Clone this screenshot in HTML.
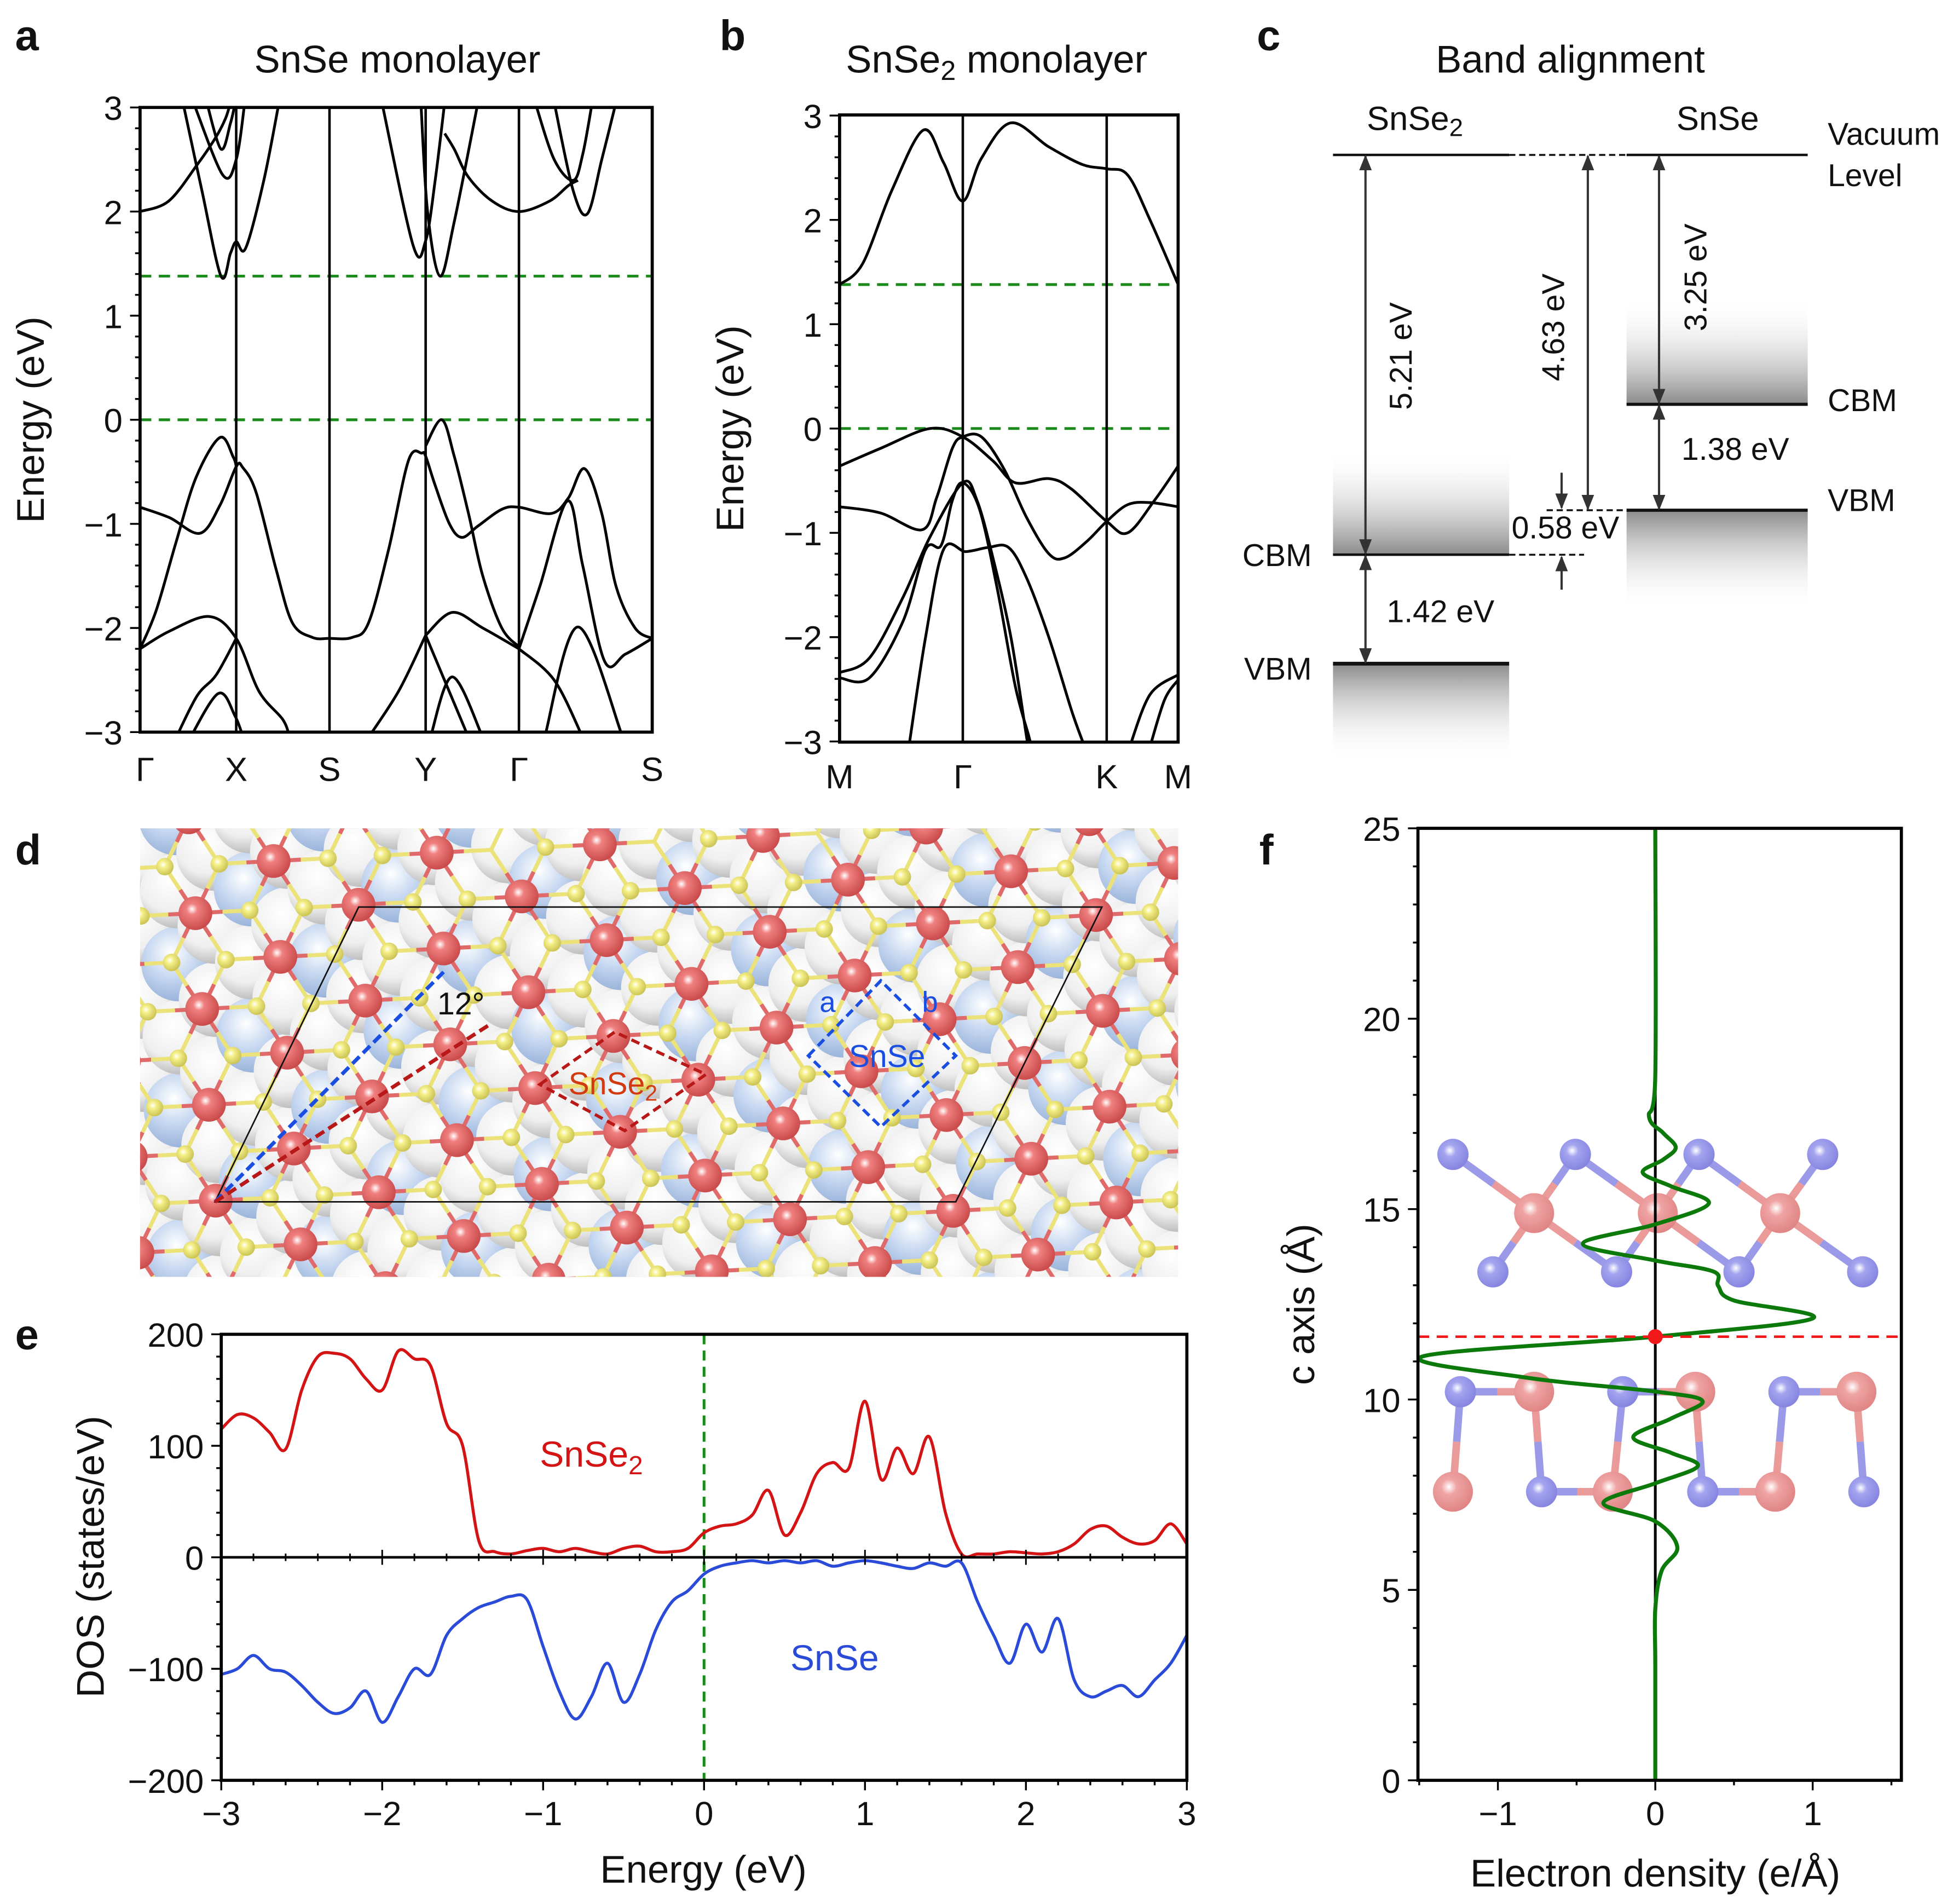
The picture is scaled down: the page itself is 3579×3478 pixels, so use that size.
<!DOCTYPE html>
<html><head><meta charset="utf-8"><style>
html,body{margin:0;padding:0;background:#fff;}
svg{display:block;font-family:"Liberation Sans",Arial,sans-serif;}
</style></head><body>
<svg id="fig" xmlns="http://www.w3.org/2000/svg" width="3579" height="3478" viewBox="0 0 1568 1524">
<defs>
<clipPath id="clipA"><rect x="112" y="86" width="410" height="500"/></clipPath>
<clipPath id="clipB"><rect x="672" y="92" width="271" height="502"/></clipPath>
<clipPath id="clipD"><rect x="112" y="663" width="831" height="359"/></clipPath>
<clipPath id="clipE"><rect x="177" y="1068" width="773" height="357"/></clipPath>
<linearGradient id="gUp" x1="0" y1="0" x2="0" y2="1"><stop offset="0" stop-color="#fff" stop-opacity="0"/><stop offset="1" stop-color="#8a8a8a"/></linearGradient>
<linearGradient id="gDown" x1="0" y1="0" x2="0" y2="1"><stop offset="0" stop-color="#8a8a8a"/><stop offset="1" stop-color="#fff" stop-opacity="0"/></linearGradient>
<radialGradient id="gRed" cx="0.4" cy="0.38" r="0.65"><stop offset="0" stop-color="#fff"/><stop offset="0.25" stop-color="#f08080"/><stop offset="1" stop-color="#c84848"/></radialGradient>
<radialGradient id="gYel" cx="0.4" cy="0.38" r="0.65"><stop offset="0" stop-color="#fff"/><stop offset="0.3" stop-color="#f6f08a"/><stop offset="1" stop-color="#c8c050"/></radialGradient>
<radialGradient id="gWhite" cx="0.4" cy="0.35" r="0.7"><stop offset="0" stop-color="#fff"/><stop offset="0.6" stop-color="#efefef"/><stop offset="1" stop-color="#b4b4b4"/></radialGradient>
<radialGradient id="gBlue" cx="0.4" cy="0.35" r="0.7"><stop offset="0" stop-color="#fff"/><stop offset="0.5" stop-color="#c4d6f0"/><stop offset="1" stop-color="#93aed6"/></radialGradient>
<radialGradient id="gPink" cx="0.4" cy="0.38" r="0.65"><stop offset="0" stop-color="#fff"/><stop offset="0.3" stop-color="#ee9a9a"/><stop offset="1" stop-color="#dd7777"/></radialGradient>
<radialGradient id="gPur" cx="0.4" cy="0.38" r="0.65"><stop offset="0" stop-color="#fff"/><stop offset="0.3" stop-color="#9a9aee"/><stop offset="1" stop-color="#7777dd"/></radialGradient>
<marker id="arr" viewBox="0 0 10 10" refX="9" refY="5" markerWidth="7" markerHeight="7" orient="auto-start-reverse"><path d="M0,1 L10,5 L0,9 z" fill="#333"/></marker>
</defs>
<g id="root"></g>
</svg>
<script>
// ---------------- DATA ----------------
const aTickK = [0, 1.01, 1.99, 3.0, 3.98, 5.38];
const aTickLabels = ["Γ", "X", "S", "Y", "Γ", "S"];
const aBands = [
 [[0,-0.84],[0.31,-0.94],[0.63,-1.09],[0.84,-0.82],[1.01,-0.45],[1.08,-0.46],[1.22,-0.70],[1.43,-1.44],[1.60,-1.95],[1.81,-2.09],[1.99,-2.10],[2.23,-2.09],[2.40,-1.95],[2.61,-1.25],[2.82,-0.39],[2.96,-0.32],[3.0,-0.35],[3.10,-0.63],[3.25,-1.0],[3.38,-1.13],[3.55,-1.02],[3.8,-0.86],[3.98,-0.84],[4.32,-0.90],[4.5,-0.75],[4.67,-0.47],[4.85,-0.9],[5.0,-1.6],[5.2,-2.0],[5.38,-2.1]],
 [[0,-2.2],[0.17,-1.83],[0.38,-1.17],[0.59,-0.55],[0.84,-0.17],[0.98,-0.36],[1.01,-0.45]],
 [[3.0,-0.25],[3.17,0],[3.3,-0.35],[3.45,-0.9],[3.6,-1.5],[3.8,-2.0],[3.98,-2.18]],
 [[3.98,-2.2],[4.2,-1.6],[4.49,-0.78],[4.65,-1.4],[4.88,-2.32],[5.1,-2.25],[5.38,-2.1]],
 [[0,-2.2],[0.31,-2.03],[0.73,-1.89],[1.01,-2.1],[1.25,-2.61],[1.5,-2.88],[1.57,-3.05]],
 [[1.01,-2.1],[0.8,-2.45],[0.6,-2.65],[0.38,-3.05]],
 [[0.5,-3.1],[0.82,-2.63],[1.0,-2.85],[1.1,-3.1]],
 [[2.4,-3.05],[2.72,-2.6],[3.0,-2.07]],
 [[3.0,-2.07],[3.28,-1.85],[3.6,-2.0],[3.98,-2.2]],
 [[3.0,-2.07],[3.45,-3.05]],
 [[3.05,-3.05],[3.28,-2.47],[3.6,-3.05]],
 [[3.98,-2.2],[4.35,-2.5],[4.65,-3.05]],
 [[4.25,-3.05],[4.6,-1.99],[5.07,-3.05]],
 [[0,2.0],[0.3,2.1],[0.6,2.45],[0.8,2.72],[0.9,2.9],[0.95,3.05]],
 [[0.45,3.05],[0.65,2.2],[0.85,1.38],[0.95,1.6],[1.01,1.71],[1.11,1.65],[1.3,2.3],[1.46,3.05]],
 [[0.56,3.05],[0.87,2.35],[1.01,2.5],[1.1,3.05]],
 [[0.7,3.05],[0.85,2.6],[0.95,2.85],[1.0,3.05]],
 [[2.54,3.05],[2.87,1.67],[3.0,1.72],[3.1,2.3],[3.2,3.05]],
 [[2.95,3.05],[3.02,2.0],[3.15,1.38],[3.3,1.9],[3.55,3.05]],
 [[3.2,2.75],[3.3,2.6],[3.45,2.33],[3.7,2.1],[3.98,2.0],[4.3,2.1],[4.5,2.25],[4.6,2.3]],
 [[4.35,3.05],[4.55,2.2],[4.7,1.98],[4.85,2.5],[5.0,3.05]],
 [[4.15,3.05],[4.35,2.5],[4.55,2.3],[4.65,2.55],[4.75,3.05]]
];
const bTickK = [0, 0.364, 0.789, 1];
const bTickLabels = ["M", "Γ", "K", "M"];
const bBands = [
 [[0,1.38],[0.068,1.58],[0.154,2.28],[0.247,2.86],[0.307,2.55],[0.364,2.18],[0.419,2.59],[0.506,2.93],[0.618,2.70],[0.718,2.53],[0.789,2.49],[0.851,2.43],[0.917,2.0],[1,1.38]],
 [[0,-0.36],[0.121,-0.19],[0.267,0.0],[0.364,-0.08],[0.453,-0.31],[0.519,-0.52],[0.618,-0.48],[0.685,-0.58],[0.789,-0.89],[0.851,-1.0],[0.930,-0.69],[1,-0.36]],
 [[0,-0.75],[0.121,-0.81],[0.244,-0.97],[0.287,-0.66],[0.333,-0.19],[0.364,-0.08],[0.419,-0.08],[0.486,-0.39],[0.552,-0.85],[0.618,-1.2],[0.665,-1.24],[0.731,-1.08],[0.789,-0.89],[0.851,-0.73],[0.917,-0.71],[1,-0.75]],
 [[0,-2.34],[0.088,-2.2],[0.187,-1.62],[0.267,-1.04],[0.364,-0.52],[0.406,-0.69],[0.453,-1.24],[0.506,-2.0],[0.552,-2.95],[0.56,-3.1]],
 [[0,-2.39],[0.088,-2.39],[0.187,-1.85],[0.254,-1.16],[0.300,-1.12],[0.333,-0.69],[0.364,-0.52],[0.413,-0.77],[0.466,-1.54],[0.519,-2.47],[0.559,-2.95],[0.57,-3.1]],
 [[0.207,-3.0],[0.254,-2.0],[0.307,-1.16],[0.373,-1.18],[0.439,-1.14],[0.499,-1.14],[0.552,-1.43],[0.618,-2.0],[0.685,-2.7],[0.718,-3.0]],
 [[0.857,-3.05],[0.917,-2.55],[1,-2.36]],
 [[0.917,-3.05],[0.96,-2.6],[1,-2.41]]
];
const dosEnergy = [];
for (let i = 0; i <= 60; i++) dosEnergy.push(-3 + i * 0.1);
const dosSnSe2 = [115,128,125,112,97,150,180,183,178,160,150,185,178,172,120,100,15,5,3,6,8,5,8,5,3,8,10,5,5,8,22,28,30,38,60,20,40,75,85,80,140,70,98,75,108,40,3,3,3,5,4,3,5,12,25,28,18,12,15,30,12];
const dosSnSe = [-105,-100,-88,-100,-103,-115,-130,-140,-135,-120,-148,-125,-100,-105,-70,-55,-45,-40,-35,-38,-80,-120,-145,-125,-95,-130,-105,-65,-40,-30,-15,-8,-5,-3,-5,-3,-5,-3,-8,-5,-3,-5,-8,-10,-5,-8,-5,-40,-70,-95,-60,-85,-55,-110,-125,-120,-115,-125,-110,-95,-70];
const eTicksX = [-3,-2,-1,0,1,2,3];
const eTicksY = [-200,-100,0,100,200];
const fC = [0,3,4.5,5.5,6.12,6.8,7.28,7.8,8.25,8.6,9.01,9.5,9.96,10.21,10.57,11.13,11.65,12.13,12.6,12.98,13.36,13.65,14.09,14.6,15.15,15.6,15.96,16.3,16.62,17.0,17.43,18.5,25];
const fV = [0,0,0,0.04,0.14,0.0,-0.33,0.0,0.27,0.1,-0.14,0.1,0.3,0.0,-0.81,-1.48,0.0,1.0,0.5,0.4,0.37,0.0,-0.46,0.0,0.34,0.1,-0.08,0.05,0.13,0.05,-0.04,0,0];
const fTicksY = [0,5,10,15,20,25];
const fTicksX = [-1,0,1];
const interfaceC = 11.65;
const snse2CBM = 5.21, snse2Gap = 1.42, snseCBM = 3.25, snseGap = 1.38;

// ---------------- HELPERS ----------------
const NS = "http://www.w3.org/2000/svg";
const root = document.getElementById("root");
function mk(tag, attrs, parent) {
  const el = document.createElementNS(NS, tag);
  for (const k in attrs) el.setAttribute(k, attrs[k]);
  (parent || root).appendChild(el);
  return el;
}
function txt(s, x, y, size, attrs, parent) {
  const a = Object.assign({x: x, y: y, "font-size": size, fill: "#111"}, attrs || {});
  const t = mk("text", a, parent);
  t.textContent = s;
  return t;
}
function smooth(pts) {
  if (pts.length < 2) return "";
  let d = "M" + pts[0][0].toFixed(2) + "," + pts[0][1].toFixed(2);
  for (let i = 0; i < pts.length - 1; i++) {
    const p0 = pts[i - 1] || pts[i], p1 = pts[i], p2 = pts[i + 1], p3 = pts[i + 2] || p2;
    const c1 = [p1[0] + (p2[0] - p0[0]) / 6, p1[1] + (p2[1] - p0[1]) / 6];
    const c2 = [p2[0] - (p3[0] - p1[0]) / 6, p2[1] - (p3[1] - p1[1]) / 6];
    d += " C" + c1[0].toFixed(2) + "," + c1[1].toFixed(2) + " " + c2[0].toFixed(2) + "," + c2[1].toFixed(2) + " " + p2[0].toFixed(2) + "," + p2[1].toFixed(2);
  }
  return d;
}
const minus = v => (v < 0 ? "\u2212" + Math.abs(v) : "" + v);
const TF = 31, LF = 31, KF = 27;

// ---------------- PANEL LETTERS ----------------
[["a",12,40],["b",576,40],["c",1006,40],["d",12,692],["e",12,1080],["f",1008,692]].forEach(p => {
  const t = txt(p[0], p[1], p[2], 34, {"font-weight": "bold"});
  
  
});

// ---------------- PANEL A ----------------
(function () {
  const g = mk("g", {});
  
  
  const X0 = 112, X1 = 522, Y0 = 86, Y1 = 586, kmax = aTickK[aTickK.length - 1];
  const xA = k => X0 + k / kmax * (X1 - X0);
  const yA = e => 336 - e * 83.33;
  const title = txt("SnSe monolayer", 318, 58, TF, {"text-anchor": "middle"}, g);
  
  
  const bg = mk("g", {"clip-path": "url(#clipA)"}, g);
  [0, 1.38].forEach(e => {
    const l = mk("line", {x1: X0, x2: X1, y1: yA(e), y2: yA(e), stroke: "#1a8a1a", "stroke-width": 2.2, "stroke-dasharray": "9,6"}, bg);
    
    
  });
  aTickK.slice(1, -1).forEach(k => {
    const l = mk("line", {x1: xA(k), x2: xA(k), y1: Y0, y2: Y1, stroke: "#000", "stroke-width": 2}, bg);
    
    
  });
  aBands.forEach((b, i) => {
    const p = mk("path", {d: smooth(b.map(q => [xA(q[0]), yA(q[1])])), fill: "none", stroke: "#000", "stroke-width": 2.2}, bg);
    
    
  });
  const box = mk("rect", {x: X0, y: Y0, width: X1 - X0, height: Y1 - Y0, fill: "none", stroke: "#000", "stroke-width": 2.5}, g);
  
  
  for (let e = -3; e <= 3.001; e += 0.2) {
    const major = Math.abs(e - Math.round(e)) < 0.01;
    mk("line", {x1: X0 - (major ? 8 : 4), x2: X0, y1: yA(e), y2: yA(e), stroke: "#000", "stroke-width": 1.5}, g);
  }
  for (let e = -3; e <= 3; e++) {
    const t = txt(minus(e), X0 - 14, yA(e) + 10, KF, {"text-anchor": "end"}, g);
    
    
  }
  aTickK.forEach((k, i) => {
    const t = txt(aTickLabels[i], xA(k) + (i === 0 ? 4 : 0), 625, KF, {"text-anchor": "middle"}, g);
    
    
  });
  const yl = txt("Energy (eV)", 0, 0, LF, {"text-anchor": "middle", transform: "translate(35,336) rotate(-90)"}, g);
  
  
})();

// ---------------- PANEL B ----------------
(function () {
  const g = mk("g", {});
  
  
  const X0 = 672, X1 = 943, Y0 = 92, Y1 = 594;
  const xB = k => X0 + k * (X1 - X0);
  const yB = e => 343 - e * 83.5;
  const title = txt("SnSe", 677, 58, TF, {}, g);
  
  
  const ts = mk("tspan", {"font-size": 22, dy: 6}, title); ts.textContent = "2";
  const ts2 = mk("tspan", {dy: -6}, title); ts2.textContent = " monolayer";
  const bg = mk("g", {"clip-path": "url(#clipB)"}, g);
  [0, 1.38].forEach(e => {
    const l = mk("line", {x1: X0, x2: X1, y1: yB(e), y2: yB(e), stroke: "#1a8a1a", "stroke-width": 2.2, "stroke-dasharray": "9,6"}, bg);
    
    
  });
  bTickK.slice(1, -1).forEach(k => {
    const l = mk("line", {x1: xB(k), x2: xB(k), y1: Y0, y2: Y1, stroke: "#000", "stroke-width": 2}, bg);
    
    
  });
  bBands.forEach((b, i) => {
    const p = mk("path", {d: smooth(b.map(q => [xB(q[0]), yB(q[1])])), fill: "none", stroke: "#000", "stroke-width": 2.2}, bg);
    
    
  });
  const box = mk("rect", {x: X0, y: Y0, width: X1 - X0, height: Y1 - Y0, fill: "none", stroke: "#000", "stroke-width": 2.5}, g);
  
  
  for (let e = -3; e <= 3.001; e += 0.2) {
    const major = Math.abs(e - Math.round(e)) < 0.01;
    mk("line", {x1: X0 - (major ? 8 : 4), x2: X0, y1: yB(e), y2: yB(e), stroke: "#000", "stroke-width": 1.5}, g);
  }
  for (let e = -3; e <= 3; e++) {
    const t = txt(minus(e), X0 - 14, yB(e) + 10, KF, {"text-anchor": "end"}, g);
    
    
  }
  bTickK.forEach((k, i) => {
    const t = txt(bTickLabels[i], xB(k), 631, KF, {"text-anchor": "middle"}, g);
    
    
  });
  const yl = txt("Energy (eV)", 0, 0, LF, {"text-anchor": "middle", transform: "translate(595,343) rotate(-90)"}, g);
  
  
})();

// ---------------- PANEL C ----------------
(function () {
  const g = mk("g", {});
  
  
  const vac = 124, scale = (444 - 124) / snse2CBM;
  const yc = e => vac + e * scale;
  const cbm2 = yc(snse2CBM), vbm2 = yc(snse2CBM + snse2Gap), cbm1 = yc(snseCBM), vbm1 = yc(snseCBM + snseGap);
  const t1 = txt("Band alignment", 1257, 58, TF, {"text-anchor": "middle"}, g);
  
  
  const h1 = txt("SnSe", 1094, 104, 27, {}, g);
  
  
  const s1 = mk("tspan", {"font-size": 20, dy: 5}, h1); s1.textContent = "2";
  const h2 = txt("SnSe", 1375, 104, 27, {"text-anchor": "middle"}, g);
  
  
  mk("rect", {x: 1067, y: cbm2 - 85, width: 141, height: 85, fill: "url(#gUp)"}, g);
  mk("rect", {x: 1067, y: vbm2, width: 141, height: 78, fill: "url(#gDown)"}, g);
  mk("rect", {x: 1302, y: cbm1 - 85, width: 145, height: 85, fill: "url(#gUp)"}, g);
  mk("rect", {x: 1302, y: vbm1, width: 145, height: 80, fill: "url(#gDown)"}, g);
  const L = (x1, y1, x2, y2, w, dash, name) => {
    const l = mk("line", {x1: x1, y1: y1, x2: x2, y2: y2, stroke: "#111", "stroke-width": w}, g);
    if (dash) l.setAttribute("stroke-dasharray", dash);
    
    
    return l;
  };
  L(1067, vac, 1208, vac, 2, null, 'vacuum-level-snse2');
  L(1208, vac, 1302, vac, 1.5, "5,3", 'vacuum-level-dashed');
  L(1302, vac, 1447, vac, 2, null, 'vacuum-level-snse');
  L(1067, cbm2, 1208, cbm2, 2, null, 'snse2-cbm');
  L(1208, cbm2, 1268, cbm2, 1.5, "5,3", 'snse2-cbm-dashed');
  L(1067, vbm2, 1208, vbm2, 3, null, 'snse2-vbm');
  L(1302, cbm1, 1447, cbm1, 2.5, null, 'snse-cbm');
  L(1302, vbm1, 1447, vbm1, 2.5, null, 'snse-vbm');
  L(1238, vbm1, 1302, vbm1, 1.5, "5,3", 'snse-vbm-dashed');
  const A = (x, y1, y2, name) => {
    const l = mk("line", {x1: x, y1: y1 + 1, x2: x, y2: y2 - 1, stroke: "#333", "stroke-width": 1.8, "marker-start": "url(#arr)", "marker-end": "url(#arr)"}, g);
    
    
  };
  A(1093, vac, cbm2, 'arrow-snse2-affinity');
  A(1093, cbm2, vbm2, 'arrow-snse2-gap');
  A(1271, vac, vbm1, 'arrow-snse-vbm');
  A(1328, vac, cbm1, 'arrow-snse-affinity');
  A(1328, cbm1, vbm1, 'arrow-snse-gap');
  const a1 = mk("line", {x1: 1250, y1: vbm1 - 30, x2: 1250, y2: vbm1 - 2, stroke: "#333", "stroke-width": 1.8, "marker-end": "url(#arr)"}, g);
  
  
  const a2 = mk("line", {x1: 1250, y1: cbm2 + 28, x2: 1250, y2: cbm2 + 2, stroke: "#333", "stroke-width": 1.8, "marker-end": "url(#arr)"}, g);
  
  
  const lab = (s, x, y, rot, name, anchor) => {
    const t = txt(s, x, y, 25, rot ? {"text-anchor": "middle", transform: "rotate(-90," + x + "," + y + ")"} : {"text-anchor": anchor || "start"}, g);
    
    
  };
  lab(snse2CBM.toFixed(2) + " eV", 1130, 285, true, 'label-5-21');
  lab((snseCBM + snseGap).toFixed(2) + " eV", 1252, 262, true, 'label-4-63');
  lab(snseCBM.toFixed(2) + " eV", 1366, 222, true, 'label-3-25');
  lab(snse2Gap.toFixed(2) + " eV", 1110, 498, false, 'label-1-42');
  lab(snseGap.toFixed(2) + " eV", 1346, 368, false, 'label-1-38');
  lab((snse2CBM - snseCBM - snseGap).toFixed(2) + " eV", 1210, 431, false, 'label-0-58');
  lab("Vacuum", 1463, 116, false, 'vacuum-label');
  lab("Level", 1463, 149, false, 'level-label');
  lab("CBM", 1463, 329, false, 'snse-cbm-label');
  lab("VBM", 1463, 409, false, 'snse-vbm-label');
  lab("CBM", 1050, 453, false, 'snse2-cbm-label', "end");
  lab("VBM", 1050, 544, false, 'snse2-vbm-label', "end");
})();

// ---------------- PANEL D ----------------
(function () {
  const g = mk("g", {"clip-path": "url(#clipD)"});
  
  
  mk("rect", {x: 112, y: 663, width: 831, height: 359, fill: "#f2f2f2"}, g);
  const O = [172.5, 961], a1 = [68, 35], a2 = [5.4, 76.7], b1 = [29, -30], b2 = [30, 28.5];
  for (let i = -30; i <= 30; i++) for (let j = -30; j <= 30; j++) {
    const x = 705 + i * b1[0] + j * b2[0], y = 845 + i * b1[1] + j * b2[1];
    if (x < 70 || x > 990 || y < 620 || y > 1070) continue;
    const blue = ((i + j) % 2 + 2) % 2 === 1 && (i % 2 === 0);
    const c = mk("circle", {cx: x, cy: y, r: 30, fill: blue ? "url(#gBlue)" : "url(#gWhite)"}, g);
    
    
  }
  const reds = [], yel = [];
  for (let i = -20; i <= 20; i++) for (let j = -20; j <= 20; j++) {
    const x = O[0] + i * a1[0] + j * a2[0], y = O[1] + i * a1[1] + j * a2[1];
    if (x < 60 || x > 1000 || y < 610 || y > 1080) continue;
    reds.push([x, y]);
    yel.push([x + (a1[0] + a2[0]) / 3, y + (a1[1] + a2[1]) / 3]);
    yel.push([x + 2 * (a1[0] + a2[0]) / 3, y + 2 * (a1[1] + a2[1]) / 3]);
  }
  const off = [[(a1[0]+a2[0])/3,(a1[1]+a2[1])/3],[(2*a1[0]-a2[0])/3,(2*a1[1]-a2[1])/3],[(2*a2[0]-a1[0])/3,(2*a2[1]-a1[1])/3]];
  reds.forEach(r => {
    [1, -1].forEach(s => off.forEach(o => {
      const ex = r[0] + s * o[0], ey = r[1] + s * o[1];
      const mx = (r[0] + ex) / 2, my = (r[1] + ey) / 2;
      mk("line", {x1: r[0], y1: r[1], x2: mx, y2: my, stroke: "#e06a6a", "stroke-width": 3.2}, g);
      mk("line", {x1: mx, y1: my, x2: ex, y2: ey, stroke: "#ece27a", "stroke-width": 3.2}, g);
    }));
  });
  yel.forEach(p => {
    const c = mk("circle", {cx: p[0], cy: p[1], r: 7, fill: "url(#gYel)"}, g);
    
    
  });
  reds.forEach(p => {
    const c = mk("circle", {cx: p[0], cy: p[1], r: 13.5, fill: "url(#gRed)"}, g);
    
    
  });
  const cell = mk("polygon", {points: "287,726 882,726 765,962 172,962", fill: "none", stroke: "#111", "stroke-width": 1.2}, g);
  
  
  const bl = mk("line", {x1: 172, y1: 962, x2: 355, y2: 778, stroke: "#1a4ee0", "stroke-width": 3, "stroke-dasharray": "8,4"}, g);
  
  
  const rl = mk("line", {x1: 172, y1: 962, x2: 392, y2: 820, stroke: "#b81818", "stroke-width": 3, "stroke-dasharray": "8,4"}, g);
  
  
  const ang = txt("12°", 350, 812, 25, {}, g);
  
  
  const rd = mk("polygon", {points: "432,868 492,826 565,860 500,905", fill: "none", stroke: "#b81818", "stroke-width": 2.5, "stroke-dasharray": "7,4"}, g);
  
  
  const rt = txt("SnSe", 455, 876, 25, {fill: "#d23a12"}, g);
  
  
  const rs = mk("tspan", {"font-size": 18, dy: 5}, rt); rs.textContent = "2";
  const bd = mk("polygon", {points: "647,845 705,785 765,845 705,902", fill: "none", stroke: "#1a4ee0", "stroke-width": 2.5, "stroke-dasharray": "7,4"}, g);
  
  
  const bt = txt("SnSe", 710, 854, 25, {fill: "#1a4ee0", "text-anchor": "middle"}, g);
  
  
  const la = txt("a", 656, 810, 23, {fill: "#1a4ee0"}, g);
  
  
  const lb = txt("b", 738, 810, 23, {fill: "#1a4ee0"}, g);
  
  
})();

// ---------------- PANEL E ----------------
(function () {
  const g = mk("g", {});
  
  
  const X0 = 177, X1 = 950, Y0 = 1068, Y1 = 1425;
  const xE = e => 563.5 + e * (X1 - X0) / 6;
  const yE = v => 1246.5 - v * (Y1 - Y0) / 400;
  const cg = mk("g", {"clip-path": "url(#clipE)"}, g);
  const z = mk("line", {x1: xE(0), x2: xE(0), y1: Y0, y2: Y1, stroke: "#1a8a1a", "stroke-width": 2.2, "stroke-dasharray": "8,5"}, cg);
  
  
  const r = mk("path", {d: smooth(dosEnergy.map((e, i) => [xE(e), yE(dosSnSe2[i])])), fill: "none", stroke: "#d41414", "stroke-width": 2.4}, cg);
  
  
  const b = mk("path", {d: smooth(dosEnergy.map((e, i) => [xE(e), yE(dosSnSe[i])])), fill: "none", stroke: "#2a4ad8", "stroke-width": 2.4}, cg);
  
  
  mk("line", {x1: X0, x2: X1, y1: yE(0), y2: yE(0), stroke: "#000", "stroke-width": 2}, g);
  const box = mk("rect", {x: X0, y: Y0, width: X1 - X0, height: Y1 - Y0, fill: "none", stroke: "#000", "stroke-width": 2.5}, g);
  
  
  for (let e = -3; e <= 3.001; e += 0.2) {
    const major = Math.abs(e - Math.round(e)) < 0.01;
    mk("line", {x1: xE(e), x2: xE(e), y1: Y1, y2: Y1 + (major ? 8 : 4), stroke: "#000", "stroke-width": 1.5}, g);
    mk("line", {x1: xE(e), x2: xE(e), y1: yE(0) - (major ? 6 : 3), y2: yE(0) + (major ? 6 : 3), stroke: "#000", "stroke-width": 1.3}, g);
  }
  for (let v = -200; v <= 200; v += 20) {
    const major = v % 100 === 0;
    mk("line", {x1: X0 - (major ? 8 : 4), x2: X0, y1: yE(v), y2: yE(v), stroke: "#000", "stroke-width": 1.5}, g);
  }
  eTicksX.forEach(e => {
    const t = txt(minus(e), xE(e), Y1 + 36, KF, {"text-anchor": "middle"}, g);
    
    
  });
  eTicksY.forEach(v => {
    const t = txt(minus(v), X0 - 14, yE(v) + 10, KF, {"text-anchor": "end"}, g);
    
    
  });
  const xl = txt("Energy (eV)", 563, 1507, LF, {"text-anchor": "middle"}, g);
  
  
  const yl = txt("DOS (states/eV)", 0, 0, LF, {"text-anchor": "middle", transform: "translate(83,1246) rotate(-90)"}, g);
  
  
  const l1 = txt("SnSe", 432, 1174, 29, {fill: "#d41414"}, g);
  
  
  const l1s = mk("tspan", {"font-size": 21, dy: 6}, l1); l1s.textContent = "2";
  const l2 = txt("SnSe", 668, 1337, 29, {fill: "#2a4ad8", "text-anchor": "middle"}, g);
  
  
})();

// ---------------- PANEL F ----------------
(function () {
  const g = mk("g", {});
  
  
  const X0 = 1135, X1 = 1522, Y0 = 663, Y1 = 1425;
  const xF = v => 1325 + v * 126;
  const yF = c => 1425 - c * 30.48;
  const mol = mk("g", {opacity: 0.9}, g);
  
  
  const bond = (p, q, cp, cq) => {
    const mx = (p[0] + q[0]) / 2, my = (p[1] + q[1]) / 2;
    mk("line", {x1: p[0], y1: p[1], x2: mx, y2: my, stroke: cp, "stroke-width": 6}, mol);
    mk("line", {x1: mx, y1: my, x2: q[0], y2: q[1], stroke: cq, "stroke-width": 6}, mol);
  };
  const P = "#e99090", B = "#9090e6";
  const topPink = [[1228,971],[1327,971],[1425,971]];
  const topBlueU = [[1163,924],[1261,924],[1360,924],[1459,924]];
  const topBlueD = [[1195,1018],[1294,1018],[1392,1018],[1491,1018]];
  topPink.forEach((p, i) => { bond(p, topBlueU[i], P, B); bond(p, topBlueU[i + 1], P, B); bond(p, topBlueD[i], P, B); bond(p, topBlueD[i + 1], P, B); });
  const r1 = [[1169,1114,"b"],[1228,1114,"p"],[1299,1114,"b"],[1357,1114,"p"],[1428,1114,"b"],[1486,1114,"p"]];
  const r2 = [[1163,1194,"p"],[1234,1194,"b"],[1291,1194,"p"],[1363,1194,"b"],[1421,1194,"p"],[1492,1194,"b"]];
  const col = a => (a[2] === "p" ? P : B);
  [[0,1],[2,3],[4,5]].forEach(q => bond(r1[q[0]], r1[q[1]], col(r1[q[0]]), col(r1[q[1]])));
  [[1,2],[3,4]].forEach(q => bond(r2[q[0]], r2[q[1]], col(r2[q[0]]), col(r2[q[1]])));
  r1.forEach((a, i) => bond(a, r2[i], col(a), col(r2[i])));
  const atom = (p, pink) => {
    const c = mk("circle", {cx: p[0], cy: p[1], r: pink ? 16 : 12.5, fill: pink ? "url(#gPink)" : "url(#gPur)"}, mol);
    
    
  };
  topBlueU.concat(topBlueD).forEach(p => atom(p, false));
  topPink.forEach(p => atom(p, true));
  r1.concat(r2).forEach(a => atom(a, a[2] === "p"));
  const zl = mk("line", {x1: xF(0), x2: xF(0), y1: Y0, y2: Y1, stroke: "#000", "stroke-width": 2.2}, g);
  
  
  const gc = mk("path", {d: smooth(fC.map((c, i) => [xF(fV[i]), yF(c)])), fill: "none", stroke: "#0b7a0b", "stroke-width": 3.2}, g);
  
  
  const rl = mk("line", {x1: X0, x2: X1, y1: yF(interfaceC), y2: yF(interfaceC), stroke: "#f01818", "stroke-width": 2, "stroke-dasharray": "9,6"}, g);
  
  
  const dot = mk("circle", {cx: xF(0), cy: yF(interfaceC), r: 6, fill: "#f01818"}, g);
  
  
  const box = mk("rect", {x: X0, y: Y0, width: X1 - X0, height: Y1 - Y0, fill: "none", stroke: "#000", "stroke-width": 2.5}, g);
  
  
  for (let c = 0; c <= 25; c++) {
    const major = c % 5 === 0;
    mk("line", {x1: X0 - (major ? 8 : 4), x2: X0, y1: yF(c), y2: yF(c), stroke: "#000", "stroke-width": 1.5}, g);
  }
  for (let v = -1.5; v <= 1.5; v += 0.5) {
    const major = Math.abs(v - Math.round(v)) < 0.01;
    mk("line", {x1: xF(v), x2: xF(v), y1: Y1, y2: Y1 + (major ? 8 : 4), stroke: "#000", "stroke-width": 1.5}, g);
  }
  fTicksY.forEach(c => {
    const t = txt("" + c, X0 - 14, yF(c) + 10, KF, {"text-anchor": "end"}, g);
    
    
  });
  fTicksX.forEach(v => {
    const t = txt(minus(v), xF(v), Y1 + 36, KF, {"text-anchor": "middle"}, g);
    
    
  });
  const xl = txt("Electron density (e/Å)", 1325, 1510, LF, {"text-anchor": "middle"}, g);
  
  
  const yl = txt("c axis (Å)", 0, 0, LF, {"text-anchor": "middle", transform: "translate(1052,1044) rotate(-90)"}, g);
  
  
})();
</script>
</body></html>
